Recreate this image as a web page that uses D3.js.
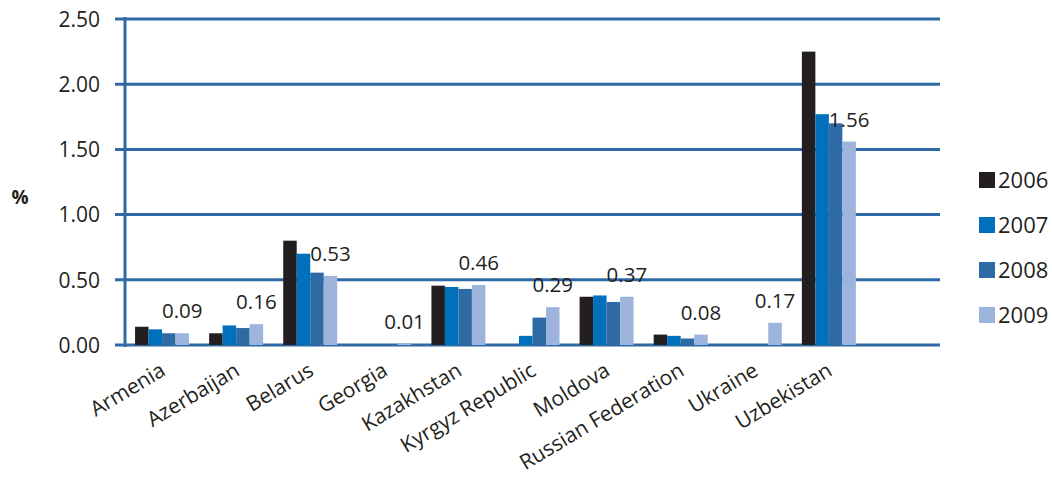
<!DOCTYPE html>
<html><head><meta charset="utf-8">
<script src="https://cdn.jsdelivr.net/npm/d3@7/dist/d3.min.js"></script>
<style>body{margin:0;background:#fff}svg{display:block}text{font-family:"Open Sans",sans-serif;fill:#231f20}</style>
</head><body><svg id="c" width="1052" height="480"></svg>
<script>
const categories = ["Armenia","Azerbaijan","Belarus","Georgia","Kazakhstan","Kyrgyz Republic","Moldova","Russian Federation","Ukraine","Uzbekistan",""];
const years = ["2006","2007","2008","2009"];
const v2006 = [0.14,0.09,0.80,0,0.455,0,0.37,0.08,0,2.25];
const v2007 = [0.12,0.15,0.70,0,0.445,0.07,0.38,0.07,0,1.77];
const v2008 = [0.09,0.13,0.555,0,0.43,0.21,0.33,0.05,0,1.70];
const v2009 = [0.09,0.16,0.53,0.01,0.46,0.29,0.37,0.08,0.17,1.56];
const labels2009 = ["0.09","0.16","0.53","0.01","0.46","0.29","0.37","0.08","0.17","1.56"];
const yTicks = [0,0.5,1,1.5,2,2.5];
const colors = ["#231f20","#0070bd","#2e6ba5","#9db5dd"];
const series = [v2006,v2007,v2008,v2009];

const svg = d3.select("#c");
const x = d3.scaleBand().domain(categories).range([125,940]).paddingInner(0).paddingOuter(0);
const y = d3.scaleLinear().domain([0,2.5]).range([345,19]);
const x1 = d3.scaleBand().domain(years).range([(x.bandwidth()-54)/2,(x.bandwidth()+54)/2]).padding(0);

const grid = "#2f6aa6";
svg.append("g").selectAll("line").data(yTicks).join("line")
  .attr("x1",115).attr("x2",940).attr("y1",d=>y(d)).attr("y2",d=>y(d))
  .attr("stroke",grid).attr("stroke-width",3);
svg.append("line").attr("x1",125).attr("x2",125).attr("y1",y(2.5)-2).attr("y2",y(0)+2)
  .attr("stroke",grid).attr("stroke-width",3);

const yAxis = d3.axisLeft(y).tickValues(yTicks).tickFormat(d3.format(".2f")).tickSize(0).tickPadding(0);
const ga = svg.append("g").attr("transform","translate(100,0)").call(yAxis);
ga.select(".domain").remove();
ga.selectAll("text").attr("font-size",21).attr("font-family","Open Sans").attr("fill","#231f20").attr("dy","0.35em");

const g = svg.append("g");
series.forEach((s,si)=>{
  g.append("g").selectAll("rect").data(s).join("rect")
    .attr("x",(d,i)=>x(categories[i])+x1(years[si]))
    .attr("width",x1.bandwidth())
    .attr("y",d=>y(d)).attr("height",d=>y(0)-y(d))
    .attr("fill",colors[si]);
});
svg.append("g").selectAll("text").data(v2009).join("text")
  .attr("x",(d,i)=>x(categories[i])+x1("2009")+x1.bandwidth()/2)
  .attr("y",d=>y(d)-22).attr("dy","0.35em").attr("text-anchor","middle")
  .attr("font-size",20.5).text((d,i)=>labels2009[i]);

const gx = svg.append("g");
gx.selectAll("text").data(categories.filter(c=>c)).join("text")
  .attr("transform",d=>`translate(${x(d)+x.bandwidth()/2+1},${368}) rotate(-31)`)
  .attr("text-anchor","end").attr("dy","0.35em").attr("font-size",21).text(d=>d);

svg.append("text").attr("x",20).attr("y",197).attr("dy","0.35em").attr("text-anchor","middle")
  .attr("font-weight","bold").attr("font-size",19).text("%");

const lg = svg.append("g").selectAll("g").data(years).join("g")
  .attr("transform",(d,i)=>`translate(979,${180+i*45})`);
lg.append("rect").attr("x",0).attr("y",-8).attr("width",16).attr("height",16).attr("fill",(d,i)=>colors[i]);
lg.append("text").attr("x",19).attr("dy","0.35em").attr("font-size",22).text(d=>d);
</script></body></html>
